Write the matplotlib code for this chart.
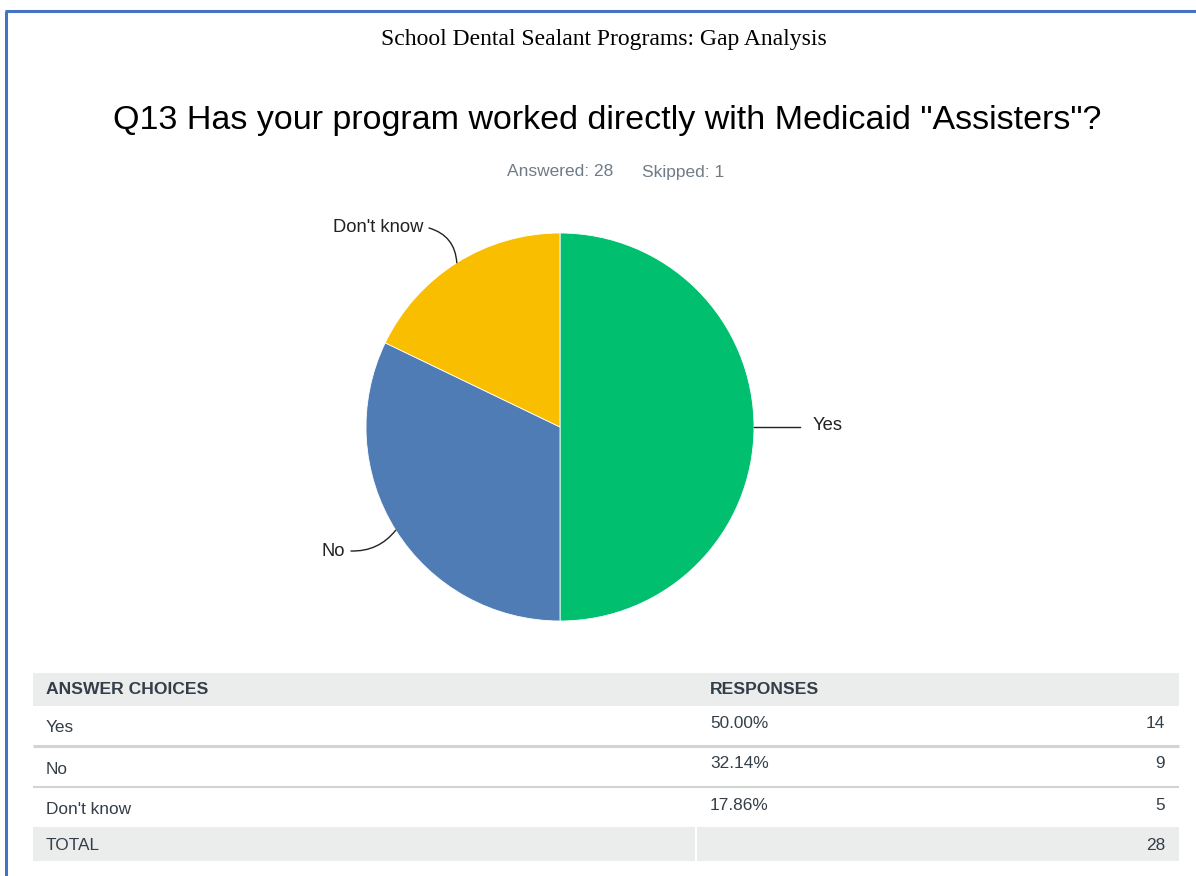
import matplotlib

matplotlib.use("Agg")
import matplotlib.pyplot as plt
import numpy as np
from matplotlib.patches import Rectangle

# ---------------------------------------------------------------------------
# data
# ---------------------------------------------------------------------------
choices = ["Yes", "No", "Don't know"]
percents = [50.00, 32.14, 17.86]
counts = [14, 9, 5]
answered = 28
skipped = 1

report_title = "School Dental Sealant Programs: Gap Analysis"
question = 'Q13 Has your program worked directly with Medicaid "Assisters"?'

colors = ["#00BF6F", "#507CB6", "#F9BE00"]
text_dark = "#333e48"
grey = "#6f7c87"
band = "#ebecec"

W, H = 1196, 876


def Y(y):
    # image rows (top-down) -> axes y (bottom-up)
    return H - y


fig = plt.figure(figsize=(W / 100, H / 100), dpi=100)
ax = fig.add_axes([0, 0, 1, 1])

# ---------------------------------------------------------------------------
# pie
# ---------------------------------------------------------------------------
cx, cy, r = 560, Y(427), 194
wedges, _ = ax.pie(counts, colors=colors, startangle=90, counterclock=False,
                   center=(cx, cy), radius=r,
                   wedgeprops=dict(edgecolor="white", linewidth=0.6))

# label text anchors and leader curvature
label_layout = {
    "Yes": dict(xytext=(813, Y(426)), ha="left", rad=0.0, stop=800),
    "No": dict(xytext=(345, Y(551)), ha="right", rad=0.25, stop=None),
    "Don't know": dict(xytext=(423, Y(228)), ha="right", rad=-0.35, stop=None),
}
for w, lab in zip(wedges, choices):
    mid = np.deg2rad((w.theta1 + w.theta2) / 2)
    edge = (cx + r * np.cos(mid), cy + r * np.sin(mid))
    lay = label_layout[lab]
    ax.text(*lay["xytext"], lab, ha=lay["ha"], va="center", fontsize=13.2,
            color="#222222", family="Liberation Sans")
    if lay["stop"] is not None:
        ax.plot([edge[0], lay["stop"]], [edge[1], edge[1]], color="#222222", lw=1)
    else:
        tx, ty = lay["xytext"]
        start = (tx + 6, ty) if lay["ha"] == "right" else (tx - 6, ty)
        ax.annotate("", xy=edge, xytext=start,
                    arrowprops=dict(arrowstyle="-", color="#222222", lw=1,
                                    shrinkA=0, shrinkB=0,
                                    connectionstyle=f"arc3,rad={lay['rad']}"))

ax.set_xlim(0, W)
ax.set_ylim(0, H)
ax.axis("off")

# ---------------------------------------------------------------------------
# page frame and titles
# ---------------------------------------------------------------------------
ax.plot([6, 6], [0, Y(11)], color="#4472C4", lw=2.2, solid_capstyle="butt")
ax.plot([5, W], [Y(11), Y(11)], color="#4472C4", lw=2.2, solid_capstyle="butt")

ax.text(604, Y(39), report_title, ha="center", va="center", fontsize=17,
        family="Liberation Serif", color="black")
ax.text(607, Y(120), question, ha="center", va="center", fontsize=24.5,
        family="Liberation Sans", color="black")
ax.text(507, Y(172), f"Answered: {answered}", ha="left", va="center", fontsize=12.5,
        family="Liberation Sans", color=grey)
ax.text(642, Y(172), f"Skipped: {skipped}", ha="left", va="center", fontsize=12.5,
        family="Liberation Sans", color=grey)

# ---------------------------------------------------------------------------
# table
# ---------------------------------------------------------------------------
left, right, col2 = 33, 1179, 696
ax.add_patch(Rectangle((left, Y(706)), right - left, 33, color=band, lw=0))
ax.text(46, Y(690), "ANSWER CHOICES", ha="left", va="center", fontsize=12.6,
        fontweight="bold", family="Liberation Sans", color=text_dark)
ax.text(710, Y(690), "RESPONSES", ha="left", va="center", fontsize=12.6,
        fontweight="bold", family="Liberation Sans", color=text_dark)

row_tops = [706, 747, 788]
row_bottoms = [746, 787, 827]
sep_widths = [2.2, 1.5]
for i, (lab, pct, n) in enumerate(zip(choices, percents, counts)):
    top = row_tops[i]
    ax.text(46, Y(top + 22), lab, ha="left", va="center", fontsize=12.4,
            family="Liberation Sans", color=text_dark)
    ax.text(710, Y(top + 17), f"{pct:.2f}%", ha="left", va="center", fontsize=12.4,
            family="Liberation Sans", color=text_dark)
    ax.text(1165, Y(top + 17), f"{n}", ha="right", va="center", fontsize=12.4,
            family="Liberation Sans", color=text_dark)
    if i < len(sep_widths):
        ax.plot([left, right], [Y(row_bottoms[i]), Y(row_bottoms[i])],
                color="#d2d3d3", lw=sep_widths[i], solid_capstyle="butt")

ax.add_patch(Rectangle((left, Y(861)), col2 - 1 - left, 34, color=band, lw=0))
ax.add_patch(Rectangle((col2 + 1, Y(861)), right - col2 - 1, 34, color=band, lw=0))
ax.text(46, Y(845), "TOTAL", ha="left", va="center", fontsize=12.4,
        family="Liberation Sans", color=text_dark)
ax.text(1165, Y(845), f"{sum(counts)}", ha="right", va="center", fontsize=12.4,
        family="Liberation Sans", color=text_dark)

fig.savefig("out.png", dpi=100)
